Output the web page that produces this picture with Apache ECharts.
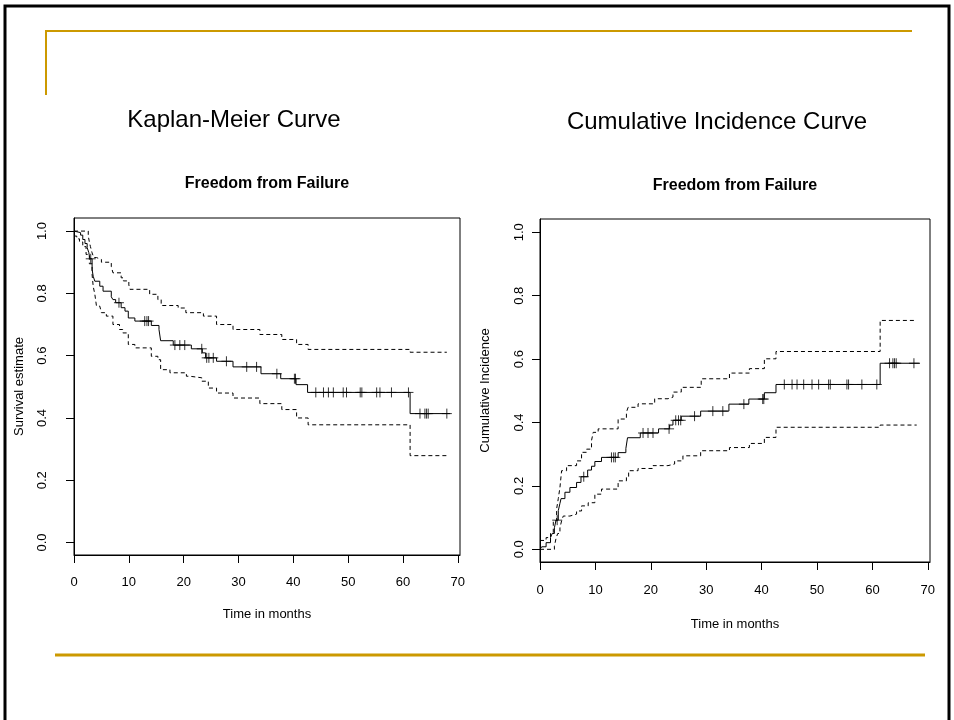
<!DOCTYPE html>
<html>
<head>
<meta charset="utf-8">
<script src="https://cdn.jsdelivr.net/npm/echarts@6/dist/echarts.min.js"></script>
<style>
  html, body { margin: 0; padding: 0; background: #fff; }
  #main { width: 954px; height: 720px; }
</style>
</head>
<body>
<div id="main"></div>
<script>
// tick values
var xTicks = [0, 10, 20, 30, 40, 50, 60, 70];
var yTicks = [0, 0.2, 0.4, 0.6, 0.8, 1.0];

// Kaplan-Meier: [time, survival] step points
var kmEst = [[0, 1.0], [0.3, 0.995], [1.2, 0.987], [1.6, 0.973], [2.0, 0.960], [2.4, 0.947], [2.7, 0.931],
  [2.9, 0.911], [3.3, 0.877], [3.5, 0.855], [3.8, 0.839], [4.7, 0.823], [5.3, 0.807], [6.8, 0.789],
  [7.1, 0.780], [7.6, 0.770], [8.6, 0.754], [9.3, 0.743], [9.9, 0.721], [11.1, 0.711], [14.1, 0.697],
  [15.5, 0.684], [15.8, 0.648], [18.1, 0.634], [21.4, 0.622], [23.4, 0.609], [24.0, 0.593], [26.0, 0.582],
  [29.0, 0.564], [34.1, 0.542], [37.7, 0.526], [40.5, 0.507], [42.6, 0.482], [61.3, 0.414], [68.6, 0.414]];
var kmUpper = [[0, 1.0], [2.6, 0.985], [2.8, 0.965], [3.0, 0.950], [3.3, 0.930], [3.6, 0.915], [4.1, 0.909],
  [5.0, 0.900], [6.8, 0.887], [7.1, 0.866], [8.6, 0.850], [9.0, 0.840], [10.0, 0.827], [10.2, 0.813],
  [13.8, 0.797], [15.3, 0.780], [15.9, 0.761], [19.0, 0.753], [20.4, 0.738], [23.6, 0.727], [26.0, 0.700],
  [29.0, 0.684], [33.9, 0.668], [37.9, 0.652], [40.6, 0.636], [42.7, 0.620], [61.3, 0.611], [68.0, 0.611]];
var kmLower = [[0, 0.984], [0.5, 0.975], [1.0, 0.965], [1.6, 0.950], [2.2, 0.925], [2.8, 0.895], [3.3, 0.860],
  [3.5, 0.823], [3.8, 0.797], [4.1, 0.759], [4.7, 0.755], [5.0, 0.738], [5.9, 0.727], [7.1, 0.700],
  [8.3, 0.684], [8.9, 0.673], [9.9, 0.636], [11.1, 0.625], [14.1, 0.598], [15.3, 0.587], [15.8, 0.555],
  [17.5, 0.545], [20.5, 0.534], [21.1, 0.529], [23.3, 0.518], [24.5, 0.496], [26.0, 0.480], [29.0, 0.464],
  [33.9, 0.446], [37.9, 0.427], [40.6, 0.400], [42.7, 0.378], [61.3, 0.279], [68.0, 0.279]];
var kmCensor = [[3.05, 0.911], [8.2, 0.770], [12.9, 0.711], [13.3, 0.711], [13.6, 0.711], [18.4, 0.634],
  [19.3, 0.634], [20.2, 0.634], [23.3, 0.622], [24.2, 0.593], [24.6, 0.593], [25.4, 0.593], [27.8, 0.582],
  [31.5, 0.564], [33.3, 0.564], [37.0, 0.542], [40.2, 0.526], [40.4, 0.526], [44.1, 0.482], [45.5, 0.482],
  [46.4, 0.482], [47.3, 0.482], [49.1, 0.482], [49.7, 0.482], [52.2, 0.482], [52.5, 0.482], [55.2, 0.482],
  [55.8, 0.482], [57.9, 0.482], [61.0, 0.482], [63.1, 0.414], [64.0, 0.414], [64.3, 0.414], [64.6, 0.414],
  [68.0, 0.414]];

// Cumulative incidence: [time, incidence] step points
var ciEst = [[0, 0.0], [0.3, 0.008], [1.1, 0.021], [1.9, 0.037], [2.2, 0.050], [2.6, 0.068], [2.9, 0.092],
  [3.3, 0.122], [3.6, 0.145], [3.8, 0.160], [4.5, 0.180], [5.4, 0.195], [6.6, 0.211], [7.4, 0.229],
  [8.6, 0.250], [9.3, 0.262], [9.9, 0.277], [11.1, 0.290], [14.1, 0.305], [15.5, 0.318], [15.8, 0.352],
  [18.1, 0.367], [21.4, 0.380], [23.4, 0.392], [24.0, 0.407], [25.5, 0.420], [29.0, 0.436], [34.1, 0.458],
  [37.7, 0.474], [40.5, 0.494], [42.6, 0.520], [61.4, 0.587], [68.6, 0.587]];
var ciUpper = [[0, 0.028], [1.1, 0.037], [1.9, 0.050], [2.4, 0.090], [3.0, 0.127], [3.3, 0.160], [3.6, 0.195],
  [3.9, 0.248], [4.8, 0.264], [6.6, 0.279], [7.5, 0.306], [8.4, 0.316], [9.3, 0.343], [9.6, 0.369],
  [10.5, 0.380], [14.1, 0.411], [15.6, 0.432], [15.9, 0.448], [17.7, 0.459], [20.7, 0.475], [23.1, 0.480],
  [24.0, 0.496], [25.5, 0.511], [29.1, 0.538], [34.2, 0.556], [37.8, 0.570], [40.5, 0.601], [42.6, 0.624],
  [61.4, 0.722], [68.0, 0.722]];
var ciLower = [[0, 0.0], [2.6, 0.010], [2.9, 0.035], [3.2, 0.050], [3.6, 0.068], [3.9, 0.090], [4.2, 0.105],
  [5.4, 0.111], [6.6, 0.121], [7.5, 0.137], [8.7, 0.147], [9.9, 0.174], [11.1, 0.190], [14.1, 0.216],
  [15.6, 0.227], [16.0, 0.248], [17.7, 0.255], [20.4, 0.264], [23.1, 0.269], [24.3, 0.279], [25.8, 0.295],
  [29.0, 0.311], [34.2, 0.321], [37.8, 0.334], [40.5, 0.353], [42.6, 0.385], [61.4, 0.392], [68.0, 0.392]];
var ciCensor = [[3.1, 0.092], [7.9, 0.229], [12.9, 0.290], [13.3, 0.290], [13.6, 0.290], [18.6, 0.367],
  [19.5, 0.367], [20.4, 0.367], [23.3, 0.380], [24.5, 0.407], [25.0, 0.407], [25.4, 0.407], [27.9, 0.420],
  [31.2, 0.436], [33.0, 0.436], [36.8, 0.458], [40.2, 0.474], [40.4, 0.474], [44.1, 0.520], [45.5, 0.520],
  [46.4, 0.520], [47.6, 0.520], [49.1, 0.520], [50.3, 0.520], [52.1, 0.520], [52.4, 0.520], [55.4, 0.520],
  [55.7, 0.520], [58.1, 0.520], [60.8, 0.520], [63.1, 0.587], [63.7, 0.587], [64.0, 0.587], [64.3, 0.587],
  [67.5, 0.587]];

var FONT = '"Liberation Sans", Arial, Helvetica, sans-serif';
var GOLD = '#cc9900';
var plusSymbol = 'path://M5,0L5,10M0,5L10,5';

function xAx(idx, margin, gap) {
    return {
        gridIndex: idx, type: 'value', min: 0, max: 70.4,
        name: 'Time in months', nameLocation: 'middle', nameGap: gap,
        nameTextStyle: { fontFamily: FONT, fontSize: 13, color: '#000' },
        axisLine: { show: true, onZero: false, lineStyle: { color: '#000', width: 1 } },
        axisTick: { show: true, customValues: xTicks, length: 8, lineStyle: { color: '#000' } },
        axisLabel: { customValues: xTicks, margin: margin, fontFamily: FONT, fontSize: 13, color: '#000' },
        splitLine: { show: false }
    };
}
function yAx(idx, name, margin, gap) {
    return {
        gridIndex: idx, type: 'value', min: -0.04, max: 1.042,
        name: name, nameLocation: 'middle', nameGap: gap,
        nameTextStyle: { fontFamily: FONT, fontSize: 13, color: '#000' },
        axisLine: { show: true, onZero: false, lineStyle: { color: '#000', width: 1 } },
        axisTick: { show: true, customValues: yTicks, length: 8, lineStyle: { color: '#000' } },
        axisLabel: {
            customValues: yTicks, rotate: 90, margin: margin, fontFamily: FONT, fontSize: 13, color: '#000',
            formatter: function (v) { return v.toFixed(1); }
        },
        splitLine: { show: false }
    };
}
function stepLine(idx, data, dashed) {
    return {
        type: 'line', xAxisIndex: idx, yAxisIndex: idx, data: data, step: 'end',
        showSymbol: false, symbol: 'none', silent: true,
        lineStyle: { color: '#000', width: 1, type: dashed ? [4, 3] : 'solid' }
    };
}
function censor(idx, data) {
    return {
        type: 'scatter', xAxisIndex: idx, yAxisIndex: idx, data: data,
        symbol: plusSymbol, symbolSize: 10, silent: true,
        itemStyle: { color: 'none', borderColor: '#000', borderWidth: 1 }
    };
}

var chart = echarts.init(document.getElementById('main'), null, { renderer: 'canvas' });
var option = {
    animation: false,
    backgroundColor: '#fff',
    title: [
        { text: 'Freedom from Failure', left: 267, top: 176, textAlign: 'center', padding: 0,
          textStyle: { fontFamily: FONT, fontSize: 16, fontWeight: 'bold', color: '#000' } },
        { text: 'Freedom from Failure', left: 735, top: 178, textAlign: 'center', padding: 0,
          textStyle: { fontFamily: FONT, fontSize: 16, fontWeight: 'bold', color: '#000' } }
    ],
    grid: [
        { left: 74, right: 494, top: 218, bottom: 165, show: true, borderColor: '#000', borderWidth: 1 },
        { left: 540, right: 24, top: 219, bottom: 158, show: true, borderColor: '#000', borderWidth: 1 }
    ],
    xAxis: [xAx(0, 21, 53), xAx(1, 22, 56)],
    yAxis: [yAx(0, 'Survival estimate', 25, 48), yAx(1, 'Cumulative Incidence', 14, 48)],
    series: [
        stepLine(0, kmUpper, true), stepLine(0, kmLower, true), stepLine(0, kmEst, false), censor(0, kmCensor),
        stepLine(1, ciUpper, true), stepLine(1, ciLower, true), stepLine(1, ciEst, false), censor(1, ciCensor)
    ],
    graphic: [
        // slide frame
        { type: 'rect', silent: true, shape: { x: 5, y: 6, width: 944, height: 760 },
          style: { fill: 'none', stroke: '#000', lineWidth: 3 } },
        { type: 'line', silent: true, shape: { x1: 46, y1: 31, x2: 912, y2: 31 },
          style: { stroke: GOLD, lineWidth: 2 } },
        { type: 'line', silent: true, shape: { x1: 46, y1: 30, x2: 46, y2: 95 },
          style: { stroke: GOLD, lineWidth: 2 } },
        { type: 'line', silent: true, shape: { x1: 55, y1: 655, x2: 925, y2: 655 },
          style: { stroke: GOLD, lineWidth: 3 } },
        { type: 'text', silent: true, x: 234, y: 120,
          style: { text: 'Kaplan-Meier Curve', fontFamily: FONT, fontSize: 24, fill: '#000',
                   textAlign: 'center', textVerticalAlign: 'middle' } },
        { type: 'text', silent: true, x: 717, y: 122,
          style: { text: 'Cumulative Incidence Curve', fontFamily: FONT, fontSize: 24, fill: '#000',
                   textAlign: 'center', textVerticalAlign: 'middle' } }
    ]
};
chart.setOption(option);
</script>
</body>
</html>
